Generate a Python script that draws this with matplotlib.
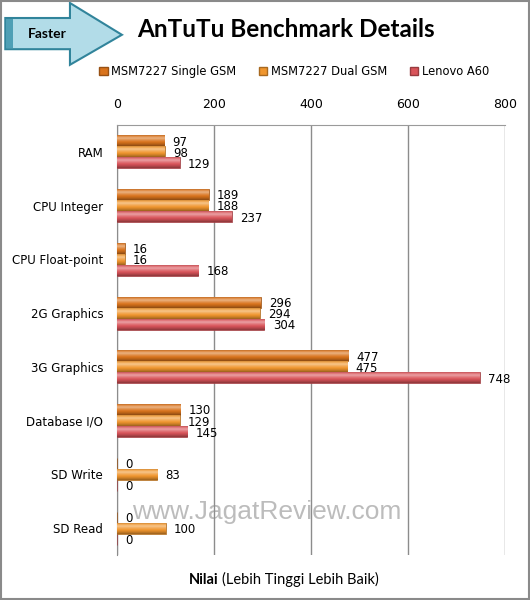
import numpy as np
import matplotlib.pyplot as plt
from matplotlib.patches import Rectangle, Polygon
from matplotlib.colors import to_rgb

# AnTuTu benchmark details (higher is better)
categories = ["RAM", "CPU Integer", "CPU Float-point", "2G Graphics",
              "3G Graphics", "Database I/O", "SD Write", "SD Read"]
series_names = ["MSM7227 Single GSM", "MSM7227 Dual GSM", "Lenovo A60"]
single_gsm = [97, 189, 16, 296, 477, 130, 0, 0]
dual_gsm = [98, 188, 16, 294, 475, 129, 83, 100]
lenovo_a60 = [129, 237, 168, 304, 748, 145, 0, 0]
x_ticks = [0, 200, 400, 600, 800]

colors = ["#D9731C", "#F0962E", "#D9545A"]
all_series = [single_gsm, dual_gsm, lenovo_a60]


def shade(c, f):
    c = np.array(to_rgb(c))
    if f >= 0:
        return c + (1 - c) * f
    return c * (1 + f)


def gradient(c):
    # cylinder-like shading, top to bottom
    prof = [-0.25, 0.15, 0.45, 0.2, 0.0, -0.15, -0.35]
    pts = np.array([shade(c, f) for f in prof])
    t = np.linspace(0, 1, 40)
    xs = np.linspace(0, 1, len(prof))
    img = np.stack([np.interp(t, xs, pts[:, k]) for k in range(3)], axis=1)
    return img[:, None, :]


fig = plt.figure(figsize=(5.3, 6.0), dpi=100)
ax = fig.add_axes([0.2208, 0.075, 0.732, 0.7167])

y = np.arange(len(categories))
h = 0.205
offsets = [-h, 0, h]

for vals, off, col in zip(all_series, offsets, colors):
    bars = ax.barh(y + off, vals, height=h, color=col, edgecolor=shade(col, -0.3),
                   linewidth=0.5, zorder=3)
    img = gradient(col)
    for b, v in zip(bars, vals):
        if v > 0:
            x0, y0 = b.get_x(), b.get_y()
            im = ax.imshow(img, extent=(x0, x0 + b.get_width(), y0 + b.get_height(), y0),
                           aspect="auto", zorder=4, interpolation="bilinear")
            im.set_clip_path(b)
        ax.annotate(str(v), (v, b.get_y() + b.get_height() / 2), xytext=(6, -1),
                    textcoords="offset points", va="center", ha="left",
                    fontsize=8.5, family="DejaVu Sans", zorder=6)

ax.set_xlim(0, 800)
ax.set_ylim(len(categories) - 0.5, -0.5)
ax.set_xticks(x_ticks)
ax.xaxis.tick_top()
ax.tick_params(axis="x", length=0, pad=10, labelsize=9)
ax.set_yticks(y)
ax.set_yticklabels(categories, fontsize=8.5)
ax.tick_params(axis="y", length=0, pad=10)
ax.grid(axis="x", color="#8c8c8c", linewidth=1, zorder=0)
for s in ["right", "bottom"]:
    ax.spines[s].set_visible(False)
ax.spines["top"].set_color("#9a9a9a")
ax.spines["left"].set_color("#8c8c8c")

# watermark
ax.text(0.387, 0.1, "www.JagatReview.com", transform=ax.transAxes, ha="center", va="center",
        fontsize=19, family="Liberation Sans", color="#909090", alpha=0.6, zorder=7)

# title and legend
fig.text(0.54, 0.951, "AnTuTu Benchmark Details", ha="center", va="center",
         fontsize=17.5, fontweight="bold", family="Lato")
handles = [Rectangle((0, 0), 1, 1, facecolor=c, edgecolor=shade(c, -0.3)) for c in colors]
fig.legend(handles, series_names, loc="center", bbox_to_anchor=(0.555, 0.881), ncol=3,
           frameon=False, fontsize=8.3, handlelength=0.7, handleheight=0.7,
           handletextpad=0.3, columnspacing=2.0)

# "Faster" arrow
arrow = Polygon([(0.010, 0.970), (0.132, 0.970), (0.132, 0.995), (0.230, 0.942),
                 (0.132, 0.892), (0.132, 0.918), (0.010, 0.918)], closed=True,
                transform=fig.transFigure, facecolor="#B2DCE8", edgecolor="#31849B",
                linewidth=1.5)
fig.patches.append(arrow)
fig.patches.append(Rectangle((0.012, 0.920), 0.012, 0.048, transform=fig.transFigure,
                             facecolor="#4E9FB5", edgecolor="none"))
fig.text(0.09, 0.944, "Faster", ha="center", va="center", fontsize=10,
         fontweight="bold", family="Lato")

# axis title
fig.text(0.413, 0.034, "Nilai", ha="right", va="center", fontsize=10.5,
         fontweight="bold", family="Lato")
fig.text(0.419, 0.034, "(Lebih Tinggi Lebih Baik)", ha="left", va="center",
         fontsize=10.5, family="Lato")

# frame around image
fig.patches.append(Rectangle((0.002, 0.002), 0.996, 0.996, transform=fig.transFigure,
                             facecolor="none", edgecolor="#8a8a8a", linewidth=1.5))

fig.savefig("out.png", dpi=100)
